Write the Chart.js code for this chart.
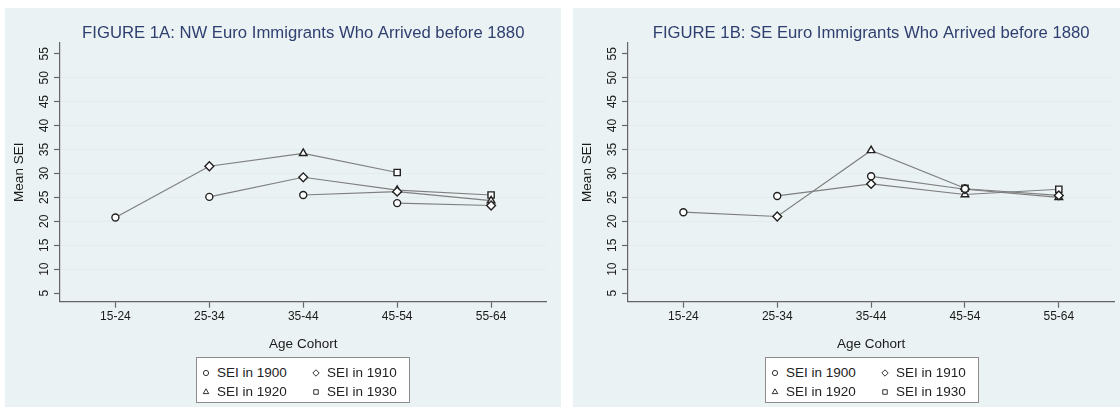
<!DOCTYPE html>
<html>
<head>
<meta charset="utf-8">
<script src="https://cdn.jsdelivr.net/npm/chart.js@4.4.1/dist/chart.umd.min.js"></script>
<style>
  body { margin: 0; width: 1120px; height: 407px; background: #fff; position: relative; overflow: hidden;
         font-family: "Liberation Sans", Arial, sans-serif; }
  .panel { position: absolute; top: 8px; height: 399px; background: #eaf2f3; }
  #panelA { left: 5px; width: 556px; }
  #panelB { left: 573px; width: 547px; }
  .panel > canvas { position: absolute; left: 0; top: 0; }
  .legend { position: absolute; top: 349px; width: 214px; height: 46px; box-sizing: border-box;
            background: #fff; border: 1px solid #8c8c8c; padding: 5px 0 0 4px;
            display: grid; grid-template-columns: 110px 96px; grid-auto-rows: 19px;
            font-size: 13.5px; color: #222; }
  .legend .item { display: flex; align-items: center; white-space: nowrap; }
  .legend .item canvas { margin-right: 6px; }
</style>
</head>
<body>
<div class="panel" id="panelA">
  <canvas id="chartA" width="556" height="399"></canvas>
  <div class="legend" id="legendA" style="left:191px"></div>
</div>
<div class="panel" id="panelB">
  <canvas id="chartB" width="547" height="399"></canvas>
  <div class="legend" id="legendB" style="left:192px"></div>
</div>
<script>
const ageCohorts = ["15-24", "25-34", "35-44", "45-54", "55-64"];
const yTicks = [5, 10, 15, 20, 25, 30, 35, 40, 45, 50, 55];
const censusYears = ["1900", "1910", "1920", "1930"];
const markerStyles = ["circle", "rectRot", "triangle", "rect"];

// Figure 1A - NW Europe (index = age cohort)
const nwSei1900 = [20.8, 25.1, 25.5, 23.8, null];
const nwSei1910 = [null, 31.5, 29.2, 26.2, 23.3];
const nwSei1920 = [null, null, 34.2, 26.5, 24.3];
const nwSei1930 = [null, null, null, 30.2, 25.5];

// Figure 1B - SE Europe
const seSei1900 = [21.9, 25.3, 29.4, 26.8, null];
const seSei1910 = [null, 21.0, 27.8, 26.7, 25.4];
const seSei1920 = [null, null, 34.8, 25.6, 25.0];
const seSei1930 = [null, null, null, 26.9, 26.7];

Chart.defaults.font.family = '"Liberation Sans", Arial, sans-serif';
Chart.defaults.color = "#1a1a1a";

const axisGrey = "#666";

// a birth cohort is followed across censuses: age group goes up one step every 10 years
function cohortLines(series) {
  const lines = [];
  for (let k = 0; k < ageCohorts.length; k++) {
    const pts = [];
    for (let j = 0; j < series.length; j++) {
      const a = k + j;
      if (a < ageCohorts.length && series[j][a] != null) pts.push({x: a, y: series[j][a]});
    }
    if (pts.length > 1) lines.push(pts);
  }
  return lines;
}

function makeLegend(id) {
  const box = document.getElementById(id);
  censusYears.forEach((yr, j) => {
    const it = document.createElement("div");
    it.className = "item";
    const c = document.createElement("canvas");
    c.width = 10; c.height = 10;
    const ctx = c.getContext("2d");
    ctx.strokeStyle = "#333";
    ctx.fillStyle = "#fff";
    ctx.lineWidth = 1;
    Chart.helpers.drawPoint(ctx, { pointStyle: markerStyles[j], radius: j == 0 ? 2.6 : 3.2, borderWidth: 1 }, 5, 5);
    it.appendChild(c);
    it.appendChild(document.createTextNode("SEI in " + yr));
    box.appendChild(it);
  });
}

function makeChart(id, title, series, rightPad) {
  const datasets = series.map((vals, j) => ({
    label: "SEI in " + censusYears[j],
    data: vals.map((v, i) => v == null ? null : {x: i, y: v}).filter(p => p),
    showLine: false,
    pointStyle: markerStyles[j],
    pointRadius: j == 0 ? 3.5 : 4.4,
    pointBorderColor: "#222",
    pointBackgroundColor: "#fff",
    pointBorderWidth: 1.4
  }));
  cohortLines(series).forEach(pts => {
    datasets.push({
      label: "",
      data: pts,
      showLine: true,
      pointRadius: 0,
      borderColor: "#7f7f7f",
      borderWidth: 1.2
    });
  });

  new Chart(document.getElementById(id), {
    type: "scatter",
    data: { datasets: datasets },
    options: {
      responsive: false,
      animation: false,
      events: [],
      layout: { padding: { left: 0, right: rightPad, top: 0, bottom: 50.3 } },
      plugins: {
        legend: { display: false },
        tooltip: { enabled: false },
        title: {
          display: true,
          text: title,
          fullSize: false,
          color: "#2f3f70",
          font: { size: 16.7, weight: "normal", lineHeight: 1.125 },
          padding: { top: 16, bottom: 0 }
        }
      },
      scales: {
        x: {
          type: "linear",
          min: -0.59,
          max: 4.59,
          afterBuildTicks: s => { s.ticks = ageCohorts.map((c, i) => ({value: i})); },
          afterFit: s => { s.height = 55; },
          ticks: { callback: v => ageCohorts[v], font: { size: 12 }, padding: 2, maxRotation: 0 },
          grid: { drawOnChartArea: false, tickLength: 6, tickColor: axisGrey, tickWidth: 1.2 },
          border: { color: axisGrey, width: 1.2 },
          title: { display: true, text: "Age Cohort", font: { size: 13.5 }, padding: { top: 5 } }
        },
        y: {
          min: 3.2,
          max: 57.3,
          afterBuildTicks: s => { s.ticks = yTicks.map(v => ({value: v})); },
          afterFit: s => { s.width = 55; },
          ticks: { minRotation: 90, maxRotation: 90, crossAlign: "center", padding: 3, font: { size: 12 } },
          grid: {
            color: c => (c.tick && (c.tick.value == 5 || c.tick.value == 55)) ? "rgba(0,0,0,0)" : "#e2ecee",
            lineWidth: 1,
            tickLength: 6,
            tickColor: axisGrey,
            tickWidth: 1.2
          },
          border: { color: axisGrey, width: 1.2 },
          title: { display: true, text: "Mean SEI", font: { size: 13.5 }, padding: { top: 6, bottom: 0 } }
        }
      }
    }
  });
}

makeChart("chartA", "FIGURE 1A: NW Euro Immigrants Who Arrived before 1880",
  [nwSei1900, nwSei1910, nwSei1920, nwSei1930], 14.5);
makeChart("chartB", "FIGURE 1B: SE Euro Immigrants Who Arrived before 1880",
  [seSei1900, seSei1910, seSei1920, seSei1930], 4);
makeLegend("legendA");
makeLegend("legendB");
</script>
</body>
</html>
